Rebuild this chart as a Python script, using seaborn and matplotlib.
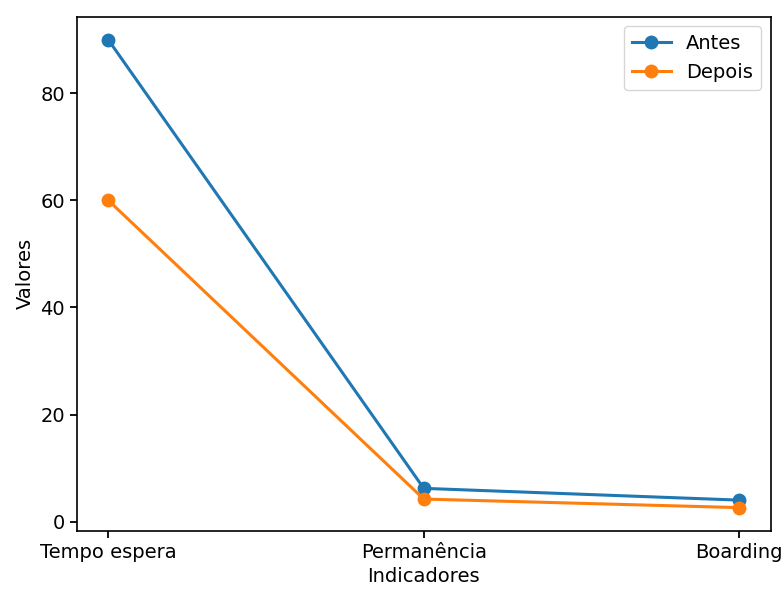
import pandas as pd
import matplotlib
matplotlib.use('Agg')
import matplotlib.pyplot as plt
import seaborn as sns

indicadores = ['Tempo espera', 'Permanência', 'Boarding']
antes = [90, 6.2, 4.0]
depois = [60, 4.2, 2.6]

df = pd.DataFrame({
    'Indicadores': indicadores * 2,
    'Valores': antes + depois,
    'Periodo': ['Antes'] * 3 + ['Depois'] * 3,
})

fs = 14
fig, ax = plt.subplots(figsize=(7.84, 5.9), dpi=100)
fig.subplots_adjust(left=0.098, right=0.983, top=0.972, bottom=0.1)

sns.lineplot(data=df, x='Indicadores', y='Valores', hue='Periodo', marker='o',
             sort=False, linewidth=2.2, markersize=10, markeredgewidth=0,
             palette=['#1f77b4', '#ff7f0e'], ax=ax)

handles, labels = ax.get_legend_handles_labels()
ax.legend(handles, labels, loc='upper right', fontsize=fs)
ax.set_xlabel('Indicadores', fontsize=fs)
ax.set_ylabel('Valores', fontsize=fs)
ax.tick_params(labelsize=fs, width=1.3, length=5)
for s in ax.spines.values():
    s.set_linewidth(1.2)

plt.savefig('out.png')
